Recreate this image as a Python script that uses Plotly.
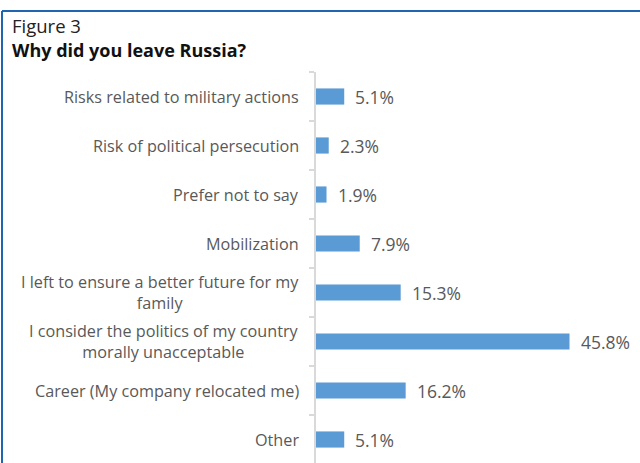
import plotly.graph_objects as go

categories = [
    "Risks related to military actions",
    "Risk of political persecution",
    "Prefer not to say",
    "Mobilization",
    "I left to ensure a better future for my<br>family",
    "I consider the politics of my country<br>morally unacceptable",
    "Career (My company relocated me)",
    "Other",
]
values = [5.1, 2.3, 1.9, 7.9, 15.3, 45.8, 16.2, 5.1]
value_labels = ["5.1%", "2.3%", "1.9%", "7.9%", "15.3%", "45.8%", "16.2%", "5.1%"]

W, H = 640, 463
L, R, T, B = 316, 0, 72, 0
px_per_unit = 5.535
plot_w = W - L - R
plot_h = H - T - B
xmax = plot_w / px_per_unit
step = 49.0
ymax = -0.5 + plot_h / step

FONT = "Open Sans"
GRAY = "#595959"

fig = go.Figure(go.Bar(
    x=values, y=list(range(len(categories))), orientation="h",
    marker=dict(color="#5B9BD5", line=dict(width=0)),
    width=0.33, hoverinfo="skip",
))

ann = []
for i, (c, v, t) in enumerate(zip(categories, values, value_labels)):
    ann.append(dict(x=0, xref="paper", y=i, yref="y", text=c, showarrow=False,
                    xanchor="right", yanchor="middle", align="center", xshift=-15,
                    font=dict(family=FONT, size=16.2, color=GRAY)))
    ann.append(dict(x=v, xref="x", y=i, yref="y", text=t, showarrow=False,
                    xanchor="left", yanchor="middle", xshift=9,
                    font=dict(family=FONT, size=17.5, color=GRAY)))

def px_x(p):
    return (p - L) / plot_w

def px_y(p):
    return (H - B - p) / plot_h

ann.append(dict(x=px_x(10), xref="paper", y=px_y(26), yref="paper", text="Figure 3",
                showarrow=False, xanchor="left", yanchor="middle",
                font=dict(family=FONT, size=18.5, color="#222222")))
ann.append(dict(x=px_x(10), xref="paper", y=px_y(50), yref="paper",
                text="<b>Why did you leave Russia?</b>",
                showarrow=False, xanchor="left", yanchor="middle",
                font=dict(family=FONT, size=18, color="#111111")))

shapes = [
    dict(type="line", xref="paper", yref="paper", x0=px_x(2), x1=px_x(700),
         y0=px_y(11), y1=px_y(11), line=dict(color="#1F65B0", width=2)),
    dict(type="line", xref="paper", yref="paper", x0=px_x(2), x1=px_x(2),
         y0=px_y(11), y1=px_y(520), line=dict(color="#1F65B0", width=2)),
]

fig.update_layout(
    width=W, height=H,
    margin=dict(l=L, r=R, t=T, b=B),
    paper_bgcolor="white", plot_bgcolor="white",
    showlegend=False,
    annotations=ann, shapes=shapes,
    xaxis=dict(range=[0, xmax], visible=False, fixedrange=True),
    yaxis=dict(range=[ymax, -0.5], showticklabels=False, showgrid=False,
               zeroline=False, showline=True, linecolor="#D9D9D9", linewidth=2,
               ticks="outside", ticklen=5, tickcolor="#D9D9D9", tickwidth=1.5,
               tickvals=[i - 0.5 for i in range(len(categories))],
               fixedrange=True),
)

fig.write_html("out.html")
